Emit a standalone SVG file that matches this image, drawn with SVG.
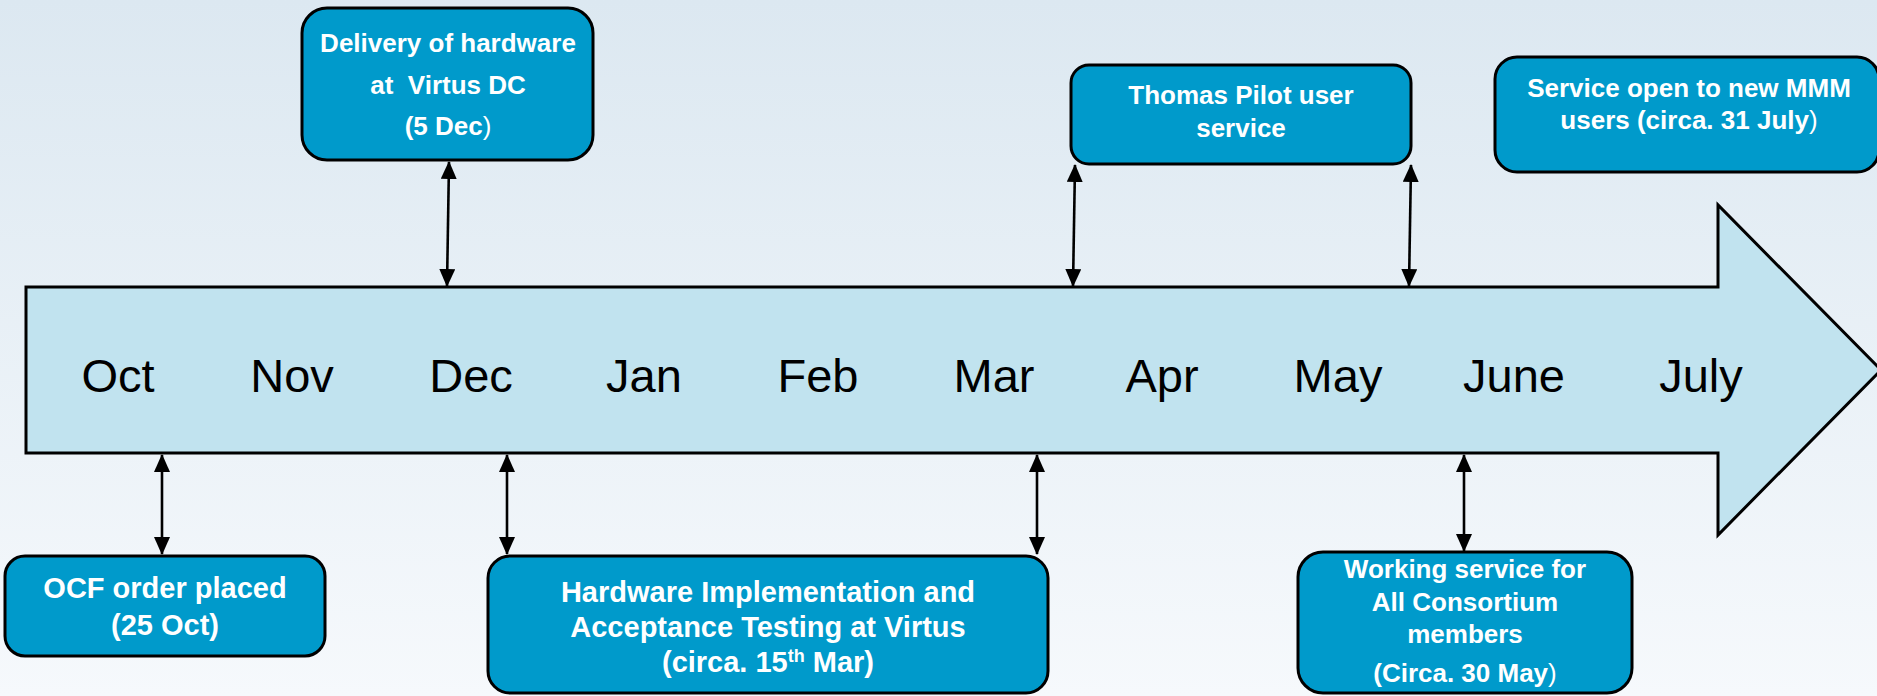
<svg xmlns="http://www.w3.org/2000/svg" width="1877" height="696" viewBox="0 0 1877 696">
<defs>
<linearGradient id="bg" x1="0" y1="0" x2="0" y2="1">
<stop offset="0" stop-color="#dce8f1"/>
<stop offset="1" stop-color="#f6f9fc"/>
</linearGradient>
<marker id="ah" viewBox="0 0 18 16" markerWidth="18" markerHeight="16" refX="17" refY="8" orient="auto-start-reverse" markerUnits="userSpaceOnUse">
<path d="M0,0 L18,8 L0,16 z" fill="#000"/>
</marker>
<style>
.box{fill:#009acb;stroke:#000;stroke-width:3}
.lbl{font-family:"Liberation Sans",Arial,sans-serif;font-weight:bold;fill:#fff;text-anchor:middle;font-size:26px}
.big{font-size:29px}
.n{font-weight:normal}
.mon{font-family:"Liberation Sans",Arial,sans-serif;font-size:47px;fill:#000;text-anchor:middle}
.con line{stroke:#000;stroke-width:2.6;marker-start:url(#ah);marker-end:url(#ah)}
</style>
</defs>
<rect x="0" y="0" width="1877" height="696" fill="url(#bg)"/>
<g id="timeline">
<polygon points="26,287 1718,287 1718,205 1881,370 1718,535 1718,453 26,453" fill="#c1e3ef" stroke="#000" stroke-width="3"/>
<text class="mon" x="118" y="392">Oct</text>
<text class="mon" x="292" y="392">Nov</text>
<text class="mon" x="471" y="392">Dec</text>
<text class="mon" x="644" y="392">Jan</text>
<text class="mon" x="818" y="392">Feb</text>
<text class="mon" x="994" y="392">Mar</text>
<text class="mon" x="1162" y="392">Apr</text>
<text class="mon" x="1338" y="392">May</text>
<text class="mon" x="1514" y="392">June</text>
<text class="mon" x="1701" y="392">July</text>
</g>
<g class="con" id="connectors">
<line x1="449" y1="162" x2="447" y2="286"/>
<line x1="162" y1="455" x2="162" y2="554"/>
<line x1="507" y1="455" x2="507" y2="554"/>
<line x1="1037" y1="455" x2="1037" y2="554"/>
<line x1="1075" y1="165" x2="1073" y2="286"/>
<line x1="1411" y1="165" x2="1409" y2="286"/>
<line x1="1464" y1="455" x2="1464" y2="551"/>
</g>
<g id="delivery">
<rect class="box" x="302" y="8" width="291" height="152" rx="25"/>
<text class="lbl" x="448" y="52">Delivery of hardware</text>
<text class="lbl" x="448" y="94" xml:space="preserve">at  Virtus DC</text>
<text class="lbl" x="448" y="135">(5 Dec<tspan class="n">)</tspan></text>
</g>
<g id="thomas">
<rect class="box" x="1071" y="65" width="340" height="99" rx="18"/>
<text class="lbl" x="1241" y="104">Thomas Pilot user</text>
<text class="lbl" x="1241" y="137">service</text>
</g>
<g id="service">
<rect class="box" x="1495" y="57" width="384" height="115" rx="22"/>
<text class="lbl" x="1689" y="97">Service open to new MMM</text>
<text class="lbl" x="1689" y="129">users (circa. 31 July<tspan class="n">)</tspan></text>
</g>
<g id="ocf">
<rect class="box" x="5" y="556" width="320" height="100" rx="20"/>
<text class="lbl big" x="165" y="598">OCF order placed</text>
<text class="lbl big" x="165" y="635">(25 Oct)</text>
</g>
<g id="hardware">
<rect class="box" x="488" y="556" width="560" height="137" rx="22"/>
<text class="lbl big" x="768" y="602">Hardware Implementation and</text>
<text class="lbl big" x="768" y="637">Acceptance Testing at Virtus</text>
<text class="lbl big" x="768" y="672">(circa. 15<tspan dy="-10" style="font-size:18px">th</tspan><tspan dy="10"> Mar)</tspan></text>
</g>
<g id="working">
<rect class="box" x="1298" y="552" width="334" height="141" rx="25"/>
<text class="lbl" x="1465" y="578">Working service for</text>
<text class="lbl" x="1465" y="611">All Consortium</text>
<text class="lbl" x="1465" y="643">members</text>
<text class="lbl" x="1465" y="682">(Circa. 30 May<tspan class="n">)</tspan></text>
</g>
</svg>
